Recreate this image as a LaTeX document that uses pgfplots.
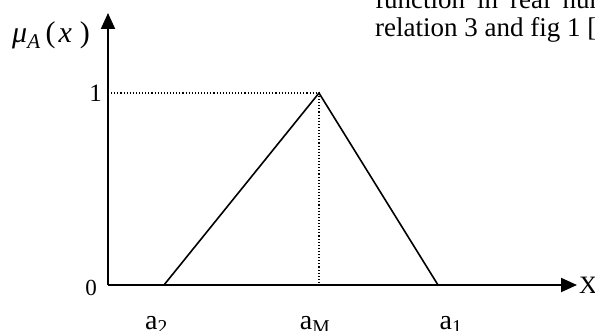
\documentclass[border=0pt]{standalone}
\usepackage{fontspec}
\setmainfont{Liberation Serif}
\usepackage{pgfplots}
\pgfplotsset{compat=1.18}
\usetikzlibrary{arrows.meta}

\begin{document}
\begin{tikzpicture}
\useasboundingbox (0,0) rectangle (595pt,331pt);
\clip (0,0) rectangle (595pt,331pt);

% body text of the page, cut off by the crop
\node[anchor=base west, inner sep=0pt, font=\fontsize{27}{31}\selectfont]
  at (375pt,322pt) {function\hspace{12pt}in\hspace{12pt}real\hspace{12pt}numbers};
\node[anchor=base west, inner sep=0pt, font=\fontsize{27}{31}\selectfont]
  at (375pt,294pt) {relation 3 and fig 1 [1].};

% y label
\node[anchor=base west, inner sep=0pt, font=\fontsize{30}{34}\selectfont]
  at (12pt,288pt) {\textit{μ}\textsubscript{\textit{A}}\hspace{5pt}(\hspace{3pt}\textit{x}\hspace{8pt})};

\begin{axis}[
  at={(108pt,46pt)}, anchor=south west,
  scale only axis, width=469pt, height=272pt,
  xmin=0, xmax=4.69, ymin=0, ymax=1.417,
  axis lines=left,
  axis line style={line width=2pt, -{Triangle[length=16pt,width=14pt]}},
  xtick=\empty,
  ytick={1},
  extra y ticks={0},
  major tick length=0pt,
  /pgf/number format/assume math mode=true,
  yticklabel style={font=\fontsize{25}{28}\selectfont, inner sep=0pt, xshift=-6pt},
  extra y tick style={yticklabel style={xshift=-5pt, yshift=-3pt, font=\fontsize{23}{26}\selectfont}},
  clip=false,
]
% guide lines to the peak
\addplot[black, line width=1.1pt, dash pattern=on 1.1pt off 2pt] coordinates {(0,1) (2.11,1) (2.11,0)};
% triangular membership function
\addplot[black, line width=1.6pt] coordinates {(0.56,0) (2.11,1) (3.30,0)};

\node[anchor=base, font=\fontsize{28}{32}\selectfont] at (axis cs:0.485,-0.232) {a\textsubscript{2}};
\node[anchor=base, font=\fontsize{28}{32}\selectfont] at (axis cs:2.07,-0.232) {a\textsubscript{M}};
\node[anchor=base, font=\fontsize{28}{32}\selectfont] at (axis cs:3.43,-0.232) {a\textsubscript{1}};
\node[anchor=west, inner sep=0pt, xshift=2pt, font=\fontsize{25}{29}\selectfont] at (axis cs:4.69,0) {X};
\end{axis}
\end{tikzpicture}
\end{document}
